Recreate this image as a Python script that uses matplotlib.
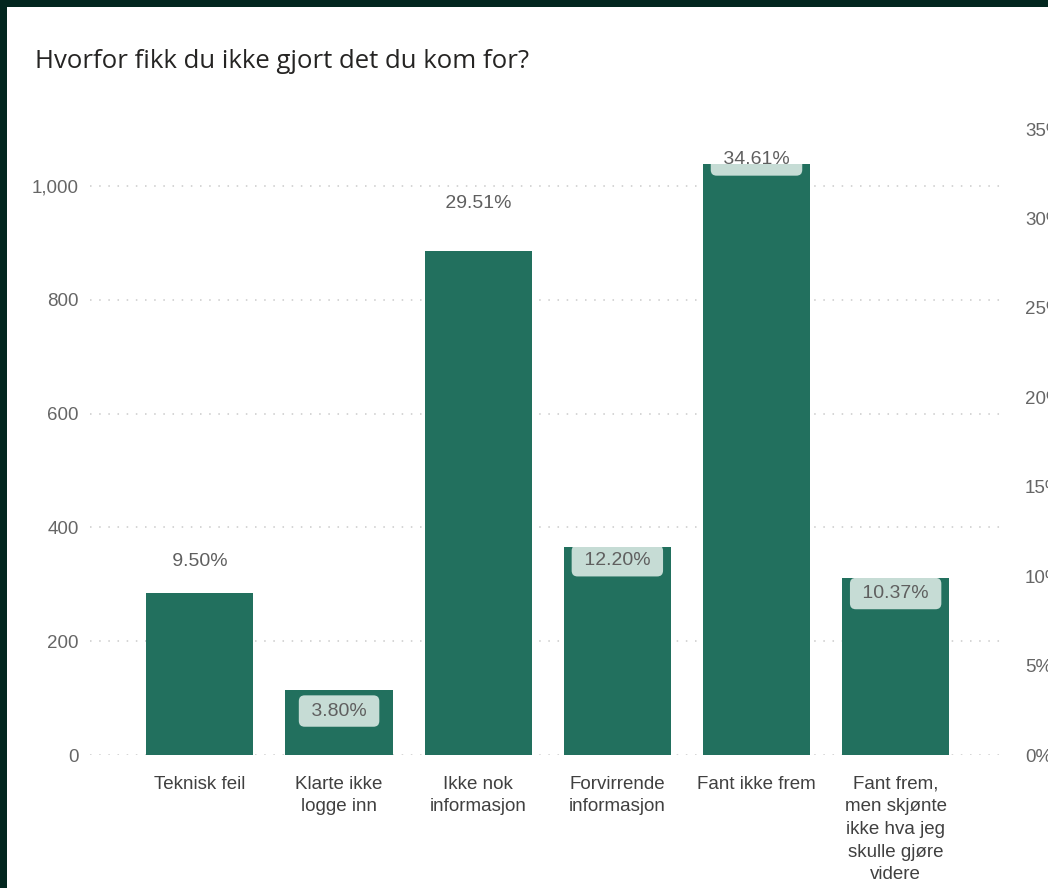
import matplotlib
matplotlib.use("Agg")
import matplotlib.pyplot as plt
from matplotlib.patches import Rectangle
from matplotlib.ticker import FuncFormatter, MultipleLocator

# Svar på spørsmålet, antall per kategori
categories = ["Teknisk feil", "Klarte ikke\nlogge inn", "Ikke nok\ninformasjon",
              "Forvirrende\ninformasjon", "Fant ikke frem",
              "Fant frem,\nmen skjønte\nikke hva jeg\nskulle gjøre\nvidere"]
counts = [285, 114, 885, 366, 1038, 311]
left_ticks = [0, 200, 400, 600, 800, 1000]

total = sum(counts)
pcts = [c / total * 100 for c in counts]

# etikett over eller inne i søylen
label_above = [True, False, True, False, False, False]

BAR = "#22705e"
BOX = "#c6dcd5"
FRAME = "#03271f"
FONT = "Liberation Sans"

fig = plt.figure(figsize=(10.48, 8.88), dpi=100, facecolor=FRAME)
fig.patches.append(Rectangle((7 / 1048, 0), 1, 1 - 7 / 888, transform=fig.transFigure,
                             facecolor="white", edgecolor="none", zorder=-5))

ax = fig.add_axes([90 / 1048, 1 - 755 / 888, 910 / 1048, (755 - 129) / 888])
ax.set_facecolor("none")
ax2 = ax.twinx()

x = list(range(len(categories)))
bars = ax.bar(x, counts, width=0.77, color=BAR, zorder=2)

ax.set_xlim(-0.79, 5.75)
ax.set_ylim(0, 1100)
ax.set_yticks(left_ticks)
ax.yaxis.set_major_formatter(FuncFormatter(lambda v, p: f"{int(v):,}"))
ax.grid(axis="y", color="#cacaca", linestyle=(0, (1, 5)), linewidth=1.1, zorder=0)
ax.set_xticks(x)
ax.set_xticklabels(categories, fontsize=13.5, color="#404040", linespacing=1.43,
                   family=FONT)
ax.tick_params(axis="x", length=0, pad=15)
ax.tick_params(axis="y", length=0, pad=8, labelsize=13.5, labelcolor="#666666")
for lab in ax.get_yticklabels():
    lab.set_family(FONT)
for s in ax.spines.values():
    s.set_visible(False)

ax2.set_ylim(0, 35)
ax2.yaxis.set_major_locator(MultipleLocator(5))
ax2.yaxis.set_major_formatter(FuncFormatter(lambda v, p: f"{int(v)}%"))
ax2.tick_params(axis="y", length=0, pad=18, labelsize=13.5, labelcolor="#666666")
for lab in ax2.get_yticklabels():
    lab.set_family(FONT)
for s in ax2.spines.values():
    s.set_visible(False)

# prosentetiketter, bakgrunnsboksen vises bare inne i søylen
for i, (p, bar) in enumerate(zip(pcts, bars)):
    dy = 17.3 if label_above[i] else -17.3
    t = ax2.annotate(f" {p:.2f}% ", xy=(i, p), xytext=(0, dy), textcoords="offset points",
                     ha="center", va="center", fontsize=14, color="#5f5f5f",
                     family=FONT, zorder=5,
                     bbox=dict(boxstyle="round,pad=0.37,rounding_size=0.3",
                               facecolor=BOX, edgecolor="none"))
    t.get_bbox_patch().set_clip_path(bar)

fig.text(35 / 1048, 1 - 61 / 888, "Hvorfor fikk du ikke gjort det du kom for?",
         fontsize=18.5, color="#252423", family="Open Sans", va="center", ha="left")

fig.savefig("out.png", dpi=100, facecolor=FRAME)
